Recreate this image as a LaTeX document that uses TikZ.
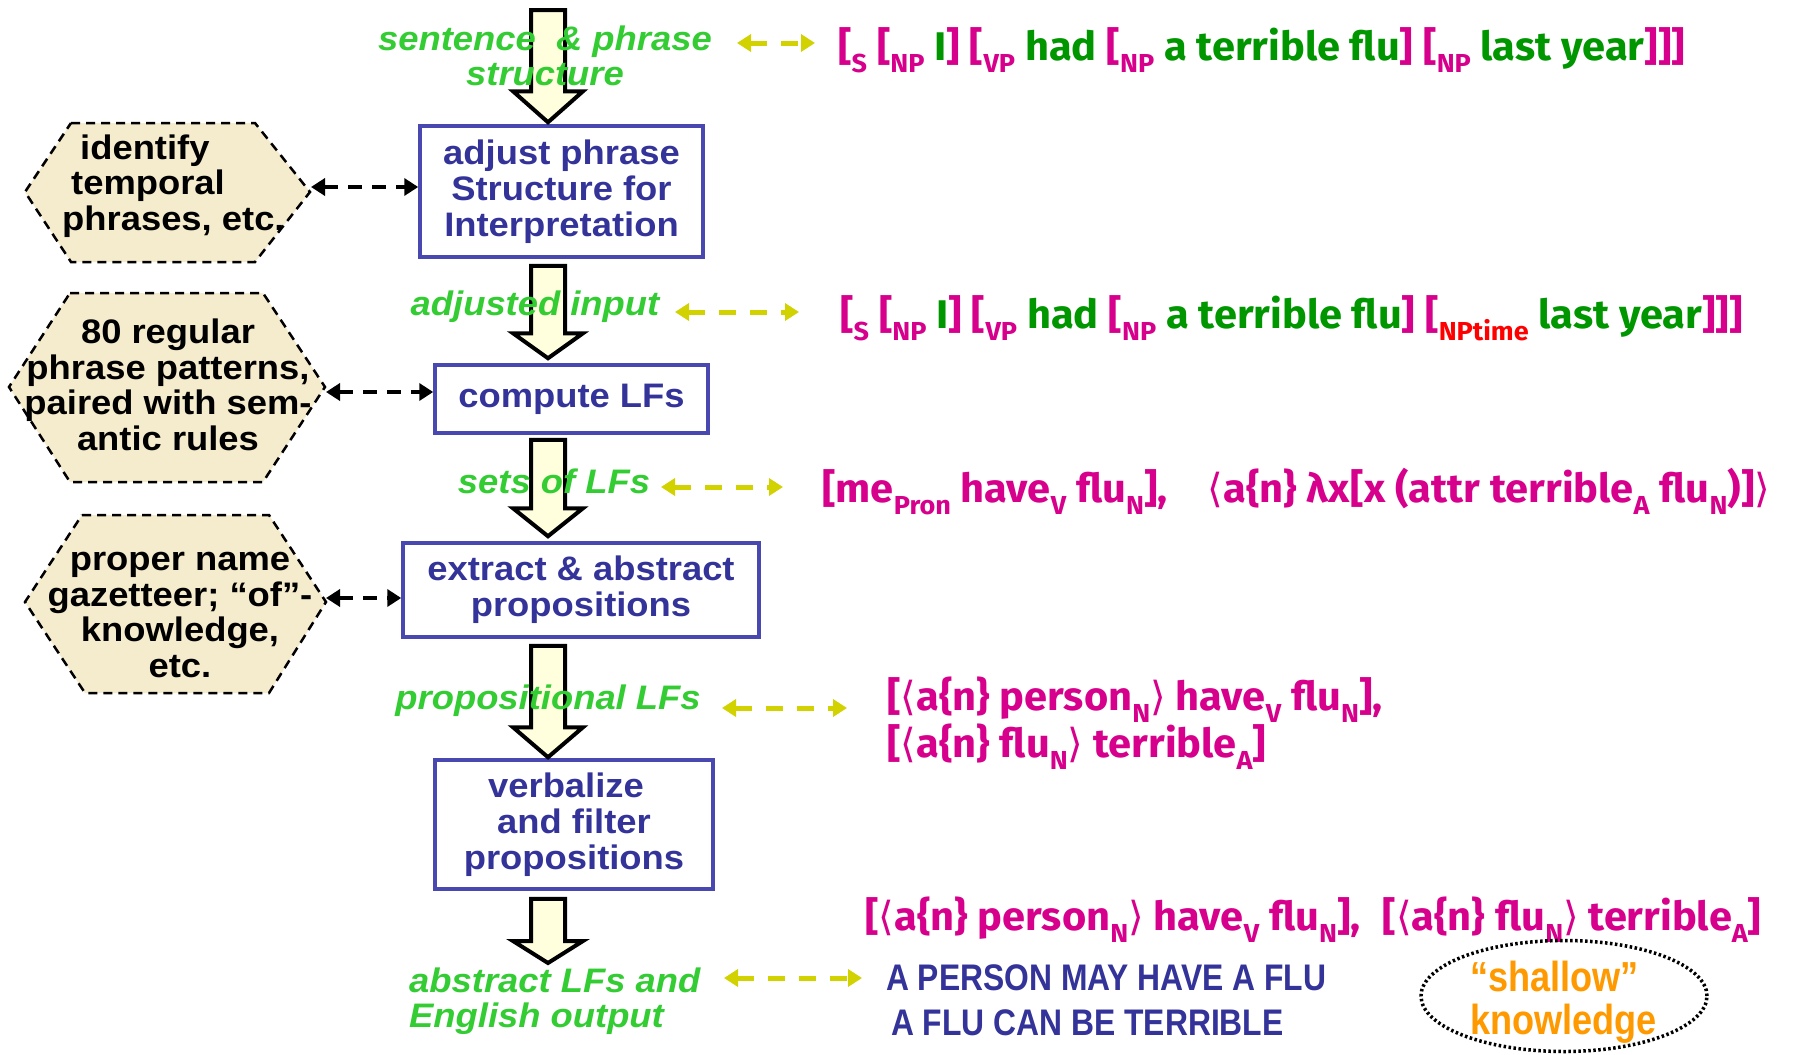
\documentclass[tikz,border=0pt]{standalone}
\usepackage{fontspec}
\setmainfont{Liberation Sans}
\newfontfamily\lsf{Liberation Sans}[FakeStretch=1.07]
\newfontfamily\lsn{Liberation Sans}[FakeStretch=0.86]
\newfontfamily\lff{Fira Sans}[FakeStretch=1.04]
\newfontfamily\dvs{DejaVu Sans}[FakeStretch=1.0]
\usetikzlibrary{arrows.meta,shapes.geometric,calc}
\definecolor{mag}{RGB}{214,0,140}
\definecolor{dgr}{RGB}{0,150,0}
\definecolor{lgr}{RGB}{51,204,51}
\definecolor{npred}{RGB}{255,0,0}
\definecolor{btext}{RGB}{51,51,153}
\definecolor{bbord}{RGB}{72,72,176}
\definecolor{ycol}{RGB}{210,210,0}
\definecolor{hexfill}{RGB}{245,235,205}
\definecolor{afill}{RGB}{255,255,221}
\definecolor{orng}{RGB}{255,153,0}
\newcommand\sbx[1]{\raisebox{-0.3em}{\fontsize{26}{26}\selectfont #1}}
\newcommand\sbr[1]{\raisebox{-0.3em}{\fontsize{26}{26}\selectfont\textcolor{npred}{#1}}}
\newcommand\lang{{\dvs\mdseries ⟨}}
\newcommand\rang{{\dvs\mdseries ⟩}}
\newcommand\gw[1]{\textcolor{dgr}{#1}}
\tikzset{
  pbox/.style={draw=bbord, line width=3.5pt, fill=white, text=btext, align=center, inner sep=0pt,
    font={\lsf\bfseries\fontsize{34}{36}\selectfont}},
  hexs/.style={draw=black, line width=2.5pt, dash pattern=on 9pt off 6pt, fill=hexfill},
  htext/.style={text=black, inner sep=0pt, font={\lsf\bfseries\fontsize{34}{35.5}\selectfont}},
  glab/.style={text=lgr, inner sep=0pt, align=center, font={\lsf\bfseries\itshape\fontsize{34}{35}\selectfont}},
  lftext/.style={text=mag, inner sep=0pt, font={\lff\bfseries\fontsize{40}{43}\selectfont}},
  caps/.style={text=btext, inner sep=0pt, font={\lsn\bfseries\fontsize{37}{40}\selectfont}},
  bdash/.style={draw=black, line width=4.5pt, dash pattern=on 14pt off 10pt,
    {Triangle[length=14pt,width=17pt]}-{Triangle[length=14pt,width=17pt]}},
  ydash/.style={draw=ycol, line width=5pt, dash pattern=on 17pt off 14pt,
    {Triangle[length=14pt,width=17pt]}-{Triangle[length=14pt,width=17pt]}},
  barrow/.style={draw=black, line width=4pt, fill=afill, line join=miter,
    to path={let \p1=(\tikztostart), \p2=(\tikztotarget) in
      (\x1-17pt,\y1) -- (\x1+17pt,\y1) -- (\x1+17pt,\y2+#1) -- (\x1+35pt,\y2+#1)
      -- (\x1,\y2) -- (\x1-35pt,\y2+#1) -- (\x1-17pt,\y2+#1) -- cycle}},
  barrow/.default=28pt
}
\begin{document}
\begin{tikzpicture}[x=1pt,y=-1pt]
\fill[white] (0,0) rectangle (1800,1055);
\useasboundingbox (0,0) rectangle (1800,1055);

% process boxes
\node[pbox, minimum width=283pt, minimum height=131pt] (b1) at (561.5,191.5) {adjust phrase\\Structure for\hspace*{14pt}\\Interpretation};
\node[pbox, minimum width=273pt, minimum height=68pt] (b2) at (571.5,399) {compute LFs};
\node[pbox, minimum width=356pt, minimum height=94pt] (b3) at (581,590) {extract \& abstract\\propositions};
\node[pbox, minimum width=278pt, minimum height=129pt] (b4) at (574,824.5) {verbalize\hspace*{16pt}\\and filter\hspace*{16pt}\\propositions};

% block arrows
\coordinate (a0) at (548,10);
\coordinate (a5) at (548,963);
\draw[barrow=31pt] (a0) to ($(a0 |- b1.north)+(0,-2)$);
\draw[barrow=25pt] ($(a0 |- b1.south)+(0,7)$) to ($(a0 |- b2.north)+(0,-5)$);
\draw[barrow=28pt] ($(a0 |- b2.south)+(0,5)$) to ($(a0 |- b3.north)+(0,-5)$);
\draw[barrow=30pt] ($(a0 |- b3.south)+(0,7)$) to ($(a0 |- b4.north)+(0,-1)$);
\draw[barrow=22pt] ($(a0 |- b4.south)+(0,8)$) to (a5);

% hexagons
\draw[hexs] (71,123) -- (255,123) -- (310,192) -- (255,262) -- (71,262) -- (25,192) -- cycle;
\draw[hexs] (70,293) -- (263,293) -- (325,387) -- (263,482) -- (70,482) -- (9,387) -- cycle;
\draw[hexs] (82,515) -- (269,515) -- (326,602) -- (269,693) -- (85,693) -- (25,602) -- cycle;
\node[htext, align=left, anchor=west] (h1) at (62,186) {\hspace*{18pt}identify\\\hspace*{9pt}temporal\\phrases, etc.};
\node[htext, align=center] (h2) at (168,385) {80 regular\\phrase patterns,\\paired with sem-\\antic rules};
\node[htext, align=center] (h3) at (180,615) {proper name\\gazetteer; “of”-\\knowledge,\\etc.};

\coordinate (h1r) at (311,187);
\coordinate (h2r) at (326,392);
\coordinate (h3r) at (326,598);
\draw[bdash] (h1r) -- (h1r -| b1.west);
\draw[bdash] (h2r) -- (h2r -| b2.west);
\draw[bdash] (h3r) -- (h3r -| b3.west);

% green labels
\node[glab] (l1) at (545,56) {sentence\ \ \& phrase\\structure};
\node[glab] (l2) at (535,307) {adjusted input};
\node[glab] (l3) at (554,481) {sets of LFs};
\node[glab] (l4) at (548,701) {propositional LFs};
\node[glab, align=left, anchor=west] (l5) at (409,1001) {abstract LFs and\\English output};

% yellow dashed arrows
\coordinate (y1a) at (737,43);  \coordinate (y1b) at (815,43);
\coordinate (y2a) at (675,312); \coordinate (y2b) at (799,312);
\coordinate (y3a) at (661,487); \coordinate (y3b) at (783,487);
\coordinate (y4a) at (722,708); \coordinate (y4b) at (847,708);
\coordinate (y5a) at (724,978); \coordinate (y5b) at (862,978);
\draw[ydash] (y1a) -- (y1b);
\draw[ydash] (y2a) -- (y2b);
\draw[ydash] (y3a) -- (y3b);
\draw[ydash] (y4a) -- (y4b);
\draw[ydash] (y5a) -- (y5b);

% logical form texts
\node[lftext, anchor=base west] (t1) at (838,60) {[\sbx{S} [\sbx{NP} \gw{I}] [\sbx{VP} \gw{had} [\sbx{NP} \gw{a terrible flu}] [\sbx{NP} \gw{last year}]]]};
\node[lftext, anchor=base west] (t2) at (840,328) {[\sbx{S} [\sbx{NP} \gw{I}] [\sbx{VP} \gw{had} [\sbx{NP} \gw{a terrible flu}] [\sbr{NPtime} \gw{last year}]]]};
\node[lftext, anchor=base west] (t3) at (822,502) {[me\sbx{Pron} have\sbx{V} flu\sbx{N}],\hspace{40pt}\lang a\{n\} λx[x (attr terrible\sbx{A} flu\sbx{N})]\rang};
\node[lftext, anchor=north west, align=left] (t4) at (887,677) {[\lang a\{n\} person\sbx{N}\rang\ have\sbx{V} flu\sbx{N}],\\{}[\lang a\{n\} flu\sbx{N}\rang\ terrible\sbx{A}]};
\node[lftext, anchor=base west] (t5) at (865,930) {[\lang a\{n\} person\sbx{N}\rang\ have\sbx{V} flu\sbx{N}],\hspace{22pt}[\lang a\{n\} flu\sbx{N}\rang\ terrible\sbx{A}]};

% English output
\node[caps, anchor=base west] (e1) at (886,990) {A PERSON MAY HAVE A FLU};
\node[caps, anchor=base west] (e2) at (891,1035) {A FLU CAN BE TERRIBLE};

% shallow knowledge
\node[draw=black, line width=3.5pt, dash pattern=on 2.5pt off 2.5pt, ellipse, minimum width=286pt, minimum height=111pt,
  inner sep=0pt] (sk) at (1564,996) {};
\node[text=orng, align=left, anchor=west, inner sep=0pt, font={\lsn\bfseries\fontsize{42}{43}\selectfont}] (skt) at (1470,1002) {“shallow”\\knowledge};
\end{tikzpicture}
\end{document}
